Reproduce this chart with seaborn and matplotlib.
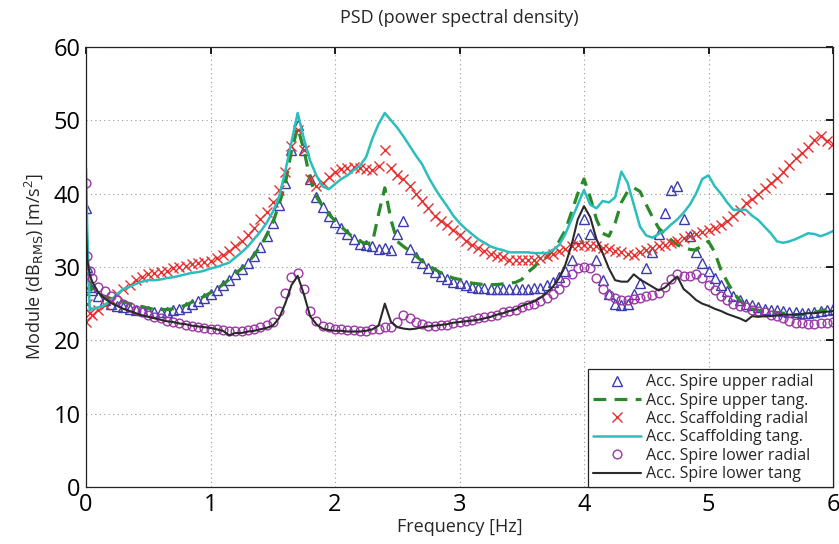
import numpy as np
import pandas as pd
import matplotlib
matplotlib.use("Agg")
import matplotlib.pyplot as plt
import seaborn as sns

# Frequency grid [Hz]
freq_start = [0.0, 0.01, 0.03, 0.05]
freq = np.concatenate([freq_start, np.round(np.arange(0.10, 6.0001, 0.05), 2)])

spire_upper_radial = [
    38.0, 30.0, 27.3, 26.8,
    26.0, 25.5, 25.0, 24.7, 24.5, 24.3, 24.2, 24.1, 24.0, 23.9,
    23.9, 23.9, 24.1, 24.3, 24.6, 25.0, 25.4, 25.8, 26.3, 26.8,
    27.5, 28.2, 29.0, 29.7, 30.5, 31.5, 32.7, 34.2, 36.0, 38.5,
    41.5, 46.0, 49.3, 46.0, 42.0, 39.5, 38.2, 37.0, 36.2, 35.3,
    34.5, 33.8, 33.2, 33.0, 32.8, 32.5, 32.6, 32.3, 34.5, 36.3,
    32.5, 31.3, 30.5, 29.8, 29.3, 28.8, 28.3, 28.0, 27.8, 27.5,
    27.3, 27.2, 27.1, 27.0, 27.0, 27.0, 27.0, 27.0, 27.0, 27.0,
    27.1, 27.2, 27.5, 28.0, 28.7, 29.5, 31.0, 34.0, 36.5, 34.5,
    31.0, 28.2, 26.3, 25.0, 24.8, 25.0, 26.3, 27.8, 29.8, 32.0,
    34.5, 37.3, 40.5, 41.0, 36.5, 34.2, 32.0, 30.5, 29.5, 28.5,
    27.5, 26.7, 26.0, 25.5, 25.0, 24.8, 24.5, 24.3, 24.2, 24.1,
    24.0, 23.9, 23.8, 23.7, 23.7, 23.8, 24.0, 24.2, 24.3,
]
spire_upper_tang = [
    37.0, 29.5, 27.5, 26.8,
    26.3, 26.0, 25.7, 25.5, 25.3, 25.0, 24.8, 24.6, 24.4, 24.2,
    24.2, 24.2, 24.3, 24.5, 24.8, 25.2, 25.6, 26.0, 26.5, 27.0,
    27.6, 28.3, 29.1, 29.8, 30.6, 31.6, 32.8, 34.3, 36.0, 38.5,
    41.3, 45.8, 49.0, 46.0, 42.0, 39.6, 38.3, 37.2, 36.3, 35.5,
    34.7, 34.0, 33.5, 33.2, 33.3, 37.2, 40.8, 36.4, 33.5, 32.8,
    32.2, 31.5, 30.8, 30.2, 29.7, 29.2, 28.8, 28.5, 28.3, 28.0,
    27.8, 27.7, 27.6, 27.6, 27.6, 27.7, 27.8, 27.9, 28.3, 29.3,
    30.0, 31.0, 31.3, 32.3, 33.5, 35.0, 37.5, 40.0, 42.0, 39.5,
    36.5, 34.6, 34.2, 36.0, 38.8, 40.3, 40.8, 40.3, 38.5, 36.8,
    35.3, 34.5, 33.7, 33.0, 32.7, 32.4, 32.3, 33.0, 33.5, 32.0,
    29.6, 28.0, 26.5, 25.5, 24.6, 24.3, 24.1, 24.0, 23.9, 23.8,
    23.7, 23.6, 23.5, 23.5, 23.6, 23.8, 24.0, 24.2, 24.3,
]
scaffolding_radial = [
    22.5, 25.0, 23.7, 23.5,
    24.1, 24.8, 25.5, 26.3, 27.0, 27.6, 28.2, 28.6, 29.0, 29.2,
    29.3, 29.5, 29.8, 30.0, 30.2, 30.4, 30.6, 30.7, 30.8, 31.2,
    31.7, 32.2, 32.8, 33.5, 34.3, 35.3, 36.5, 37.5, 38.8, 40.5,
    43.0, 46.5, 48.7, 46.0, 42.0, 41.0, 41.5, 42.3, 43.0, 43.3,
    43.5, 43.6, 43.5, 43.4, 43.2, 43.8, 46.0, 43.5, 42.5, 42.0,
    41.0, 40.0, 39.0, 38.0, 37.0, 36.3, 35.7, 35.0, 34.3, 33.6,
    33.0, 32.6, 32.2, 31.8, 31.5, 31.3, 31.0, 31.0, 31.0, 31.0,
    31.0, 31.2, 31.5, 31.8, 32.2, 32.5, 32.8, 33.0, 33.0, 32.8,
    32.8, 32.6, 32.5, 32.2, 32.0, 31.8, 31.6, 32.0, 32.3, 32.6,
    32.8, 33.0, 33.3, 33.6, 34.0, 34.2, 34.5, 34.8, 35.0, 35.3,
    35.7, 36.3, 37.0, 37.8, 38.7, 39.3, 40.0, 40.8, 41.5, 42.2,
    43.0, 43.9, 44.8, 45.5, 46.3, 47.3, 47.8, 47.2, 46.8,
]
scaffolding_tang = [
    43.5, 35.0, 24.0, 24.3,
    24.5, 24.8, 25.5, 26.3, 27.0, 27.3, 27.7, 28.0, 28.2, 28.2,
    28.3, 28.5, 28.6, 28.8, 29.0, 29.2, 29.3, 29.5, 29.8, 30.0,
    30.3, 30.6, 31.3, 32.0, 32.8, 33.8, 34.8, 36.0, 37.5, 39.5,
    43.0, 47.0, 51.0, 47.5, 44.5, 42.5, 41.0, 40.6, 41.3, 42.0,
    42.5, 43.2, 43.8, 45.0, 47.5, 49.5, 51.0, 50.0, 49.0, 47.8,
    46.5, 45.2, 44.0, 42.3, 40.8, 39.5, 38.3, 37.0, 36.0, 35.2,
    34.5, 33.8, 33.3, 32.8, 32.5, 32.3, 32.0, 32.0, 32.0, 32.0,
    31.9, 31.9, 31.9, 32.3, 33.0, 34.5, 36.5, 38.5, 40.5, 38.5,
    38.0, 39.0, 38.8, 39.5, 43.0, 41.5, 38.5, 35.5, 34.3, 34.0,
    34.5, 35.0, 35.8, 36.5, 37.4, 38.5, 40.0, 42.0, 42.5, 41.0,
    40.0, 38.8, 37.8, 37.8, 37.8, 37.0, 36.4, 35.5, 34.6, 33.5,
    33.3, 33.5, 33.8, 34.2, 34.6, 34.5, 34.2, 34.5, 34.9,
]
spire_lower_radial = [
    41.5, 31.5, 29.5, 28.5,
    27.3, 26.7, 26.0, 25.5, 25.0, 24.6, 24.2, 23.8, 23.5, 23.2,
    23.0, 22.7, 22.5, 22.3, 22.1, 22.0, 21.8, 21.7, 21.6, 21.5,
    21.4, 21.3, 21.3, 21.3, 21.4, 21.6, 21.8, 22.1, 22.5, 24.0,
    26.5, 28.7, 29.2, 27.0, 24.0, 22.6, 22.0, 21.8, 21.6, 21.5,
    21.4, 21.4, 21.3, 21.3, 21.5, 21.6, 21.8, 21.8, 22.5, 23.5,
    23.0, 22.5, 22.2, 22.0, 22.0, 22.1, 22.1, 22.3, 22.5, 22.6,
    22.8, 23.0, 23.2, 23.3, 23.5, 23.8, 24.0, 24.2, 24.5, 24.8,
    25.0, 25.3, 25.8, 26.3, 27.0, 28.0, 29.0, 29.8, 30.0, 29.8,
    28.5, 27.0, 26.2, 25.8, 25.5, 25.5, 25.7, 25.8, 26.0, 26.2,
    26.5, 27.3, 28.3, 29.0, 28.8, 28.8, 29.0, 28.5, 27.5, 26.8,
    26.0, 25.5, 25.0, 24.7, 24.5, 24.2, 24.0, 23.8, 23.5, 23.3,
    23.0, 22.7, 22.4, 22.3, 22.2, 22.2, 22.3, 22.4, 22.5,
]
spire_lower_tang = [
    35.5, 31.0, 29.0, 28.0,
    26.5, 25.7, 25.1, 24.7, 24.3, 24.0, 23.7, 23.4, 23.2, 23.0,
    22.8, 22.6, 22.5, 22.3, 22.2, 22.0, 21.9, 21.8, 21.7, 21.5,
    21.3, 20.7, 21.0, 21.0, 21.2, 21.3, 21.5, 21.7, 22.0, 23.0,
    25.0, 27.5, 28.8, 26.3, 23.3, 22.2, 21.6, 21.4, 21.3, 21.3,
    21.2, 21.2, 21.2, 21.3, 21.5, 22.0, 25.0, 22.5, 21.8, 21.6,
    21.5, 21.6, 21.8, 21.9, 22.0, 22.1, 22.2, 22.4, 22.5, 22.6,
    22.7, 22.8, 23.0, 23.2, 23.5, 23.7, 24.0, 24.2, 24.7, 25.0,
    25.3, 25.8, 26.5, 27.3, 28.5, 30.3, 33.0, 36.5, 38.3, 36.8,
    33.8, 31.9, 29.8, 28.2, 28.0, 28.0, 29.0, 28.3, 27.8, 27.3,
    26.8, 27.2, 28.0, 28.7, 27.0, 26.3, 25.5, 25.0, 24.7, 24.3,
    24.0, 23.6, 23.3, 23.0, 22.6, 23.3, 23.2, 23.3, 23.3, 23.4,
    23.5, 23.5, 23.5, 23.6, 23.7, 23.7, 23.8, 23.9, 24.0,
]

series_labels = [
    "Acc. Spire upper radial",
    "Acc. Spire upper tang.",
    "Acc. Scaffolding radial",
    "Acc. Scaffolding tang.",
    "Acc. Spire lower radial",
    "Acc. Spire lower tang",
]
series_values = [spire_upper_radial, spire_upper_tang, scaffolding_radial,
                 scaffolding_tang, spire_lower_radial, spire_lower_tang]

c_blue, c_green, c_red, c_cyan, c_purple, c_black = (
    "#3c3cae", "#2a8a2a", "#e53030", "#2cbdbd", "#9c36a6", "#2a2a2a")

styles = [
    dict(color=c_blue, linestyle="none", marker="^", markersize=7.5,
         markerfacecolor="none", markeredgecolor=c_blue, markeredgewidth=1.0),
    dict(color=c_green, linestyle=(0, (4, 2.6)), linewidth=2.3),
    dict(color=c_red, linestyle="none", marker="x", markersize=6.5,
         markeredgecolor=c_red, markeredgewidth=1.0),
    dict(color=c_cyan, linestyle="-", linewidth=1.8),
    dict(color=c_purple, linestyle="none", marker="o", markersize=6.3,
         markerfacecolor="none", markeredgecolor=c_purple, markeredgewidth=1.0),
    dict(color=c_black, linestyle="-", linewidth=1.5),
]

sns.set_theme(style="white")
plt.rcParams["font.family"] = ["Open Sans", "DejaVu Sans"]
plt.rcParams["mathtext.default"] = "regular"

fig = plt.figure(figsize=(8.39, 5.44), dpi=100)
ax = fig.add_axes([86 / 839, 1 - 487 / 544, (833 - 86) / 839, (487 - 47) / 544])

for vals, lab, st in zip(series_values, series_labels, styles):
    df = pd.DataFrame({"freq": freq, "val": vals})
    sns.lineplot(data=df, x="freq", y="val", ax=ax, label=lab,
                 estimator=None, sort=False, **st)

ax.set_xlim(0, 6)
ax.set_ylim(0, 60)
ax.set_xticks(range(0, 7))
ax.set_yticks(range(0, 61, 10))
ax.grid(True, linestyle=(0, (1, 3)), color="#9a9a9a", linewidth=0.8)
ax.tick_params(direction="in", length=5, top=True, right=True,
               labelsize=17, colors="black", pad=4)
for sp in ax.spines.values():
    sp.set_color("#222222")
    sp.set_linewidth(0.9)

ax.set_title("PSD (power spectral density)", fontsize=13, pad=17)
ax.set_xlabel("Frequency [Hz]", fontsize=13, labelpad=1)
ax.set_ylabel(r"Module (dB$_{\rm RMS}$) [m/s$^2$]", fontsize=13, labelpad=6)

leg_w = (833 - 588) / 747
leg_h = (487 - 368) / 440
leg = ax.legend(loc="lower right", bbox_to_anchor=(1 - leg_w, 0, leg_w, leg_h),
                mode="expand", borderaxespad=0, fontsize=11.5,
                frameon=True, fancybox=False, framealpha=1,
                edgecolor="#222222", numpoints=1, handlelength=3.0,
                handletextpad=0.35, labelspacing=0.15, borderpad=0.3)
leg.get_frame().set_linewidth(0.9)

fig.savefig("out.png", dpi=100)
